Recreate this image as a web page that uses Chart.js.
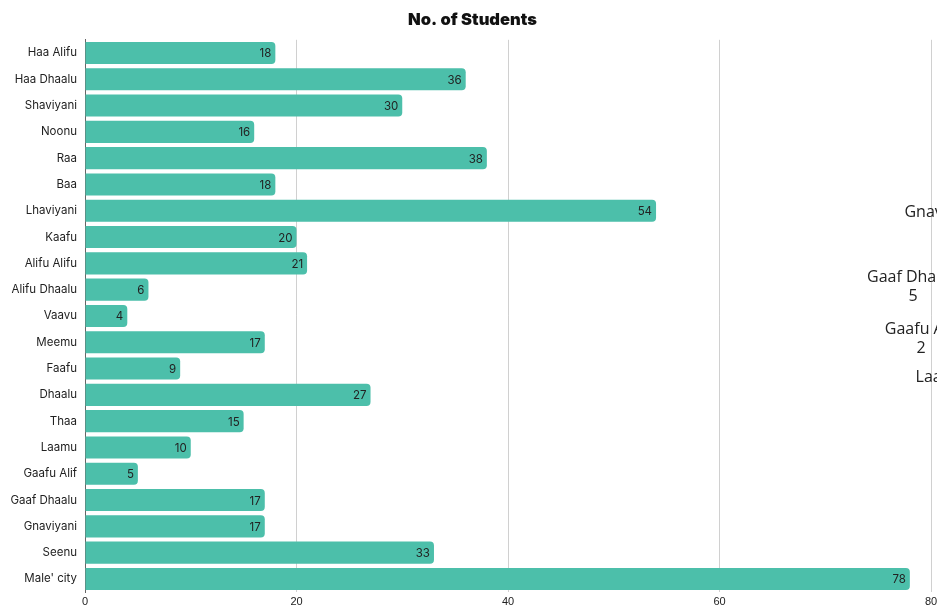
<!DOCTYPE html>
<html>
<head>
<meta charset="utf-8">
<script src="https://cdn.jsdelivr.net/npm/chart.js@4"></script>
<style>
  html, body { margin: 0; padding: 0; background: #fff; overflow: hidden; }
  #wrap { position: relative; width: 937px; height: 607px; overflow: hidden; }
  canvas { position: absolute; left: 0; top: 0; }
  .stray { position: absolute; font-family: "Open Sans", sans-serif; font-size: 16px; line-height: 19px;
           color: #222; text-align: center; white-space: nowrap; transform: translateX(-50%); }
</style>
</head>
<body>
<div id="wrap">
  <canvas id="chart" width="945" height="607"></canvas>
</div>
<script>
const regions = [
    'Haa Alifu', 'Haa Dhaalu', 'Shaviyani', 'Noonu', 'Raa', 'Baa', 'Lhaviyani',
    'Kaafu', 'Alifu Alifu', 'Alifu Dhaalu', 'Vaavu', 'Meemu', 'Faafu', 'Dhaalu',
    'Thaa', 'Laamu', 'Gaafu Alif', 'Gaaf Dhaalu', 'Gnaviyani', 'Seenu', "Male' city"
];
const students = [18, 36, 30, 16, 38, 18, 54, 20, 21, 6, 4, 17, 9, 27, 15, 10, 5, 17, 17, 33, 78];
const xTicks = [0, 20, 40, 60, 80];

// labels of another chart that spill in from the right edge of the page
const strayLabels = ['Gnaviyani', 'Gaaf Dhaalu', 'Gaafu Alif', 'Laamu'];
const strayValues = ['', '5', '2', ''];

// draw the value at the end of each bar
const barValues = {
    id: 'barValues',
    afterDatasetsDraw(chart) {
        const ctx = chart.ctx;
        const meta = chart.getDatasetMeta(0);
        ctx.save();
        ctx.font = '11.5px Inter, sans-serif';
        ctx.fillStyle = '#222';
        ctx.textAlign = 'right';
        ctx.textBaseline = 'middle';
        meta.data.forEach((bar, i) => {
            ctx.fillText(chart.data.datasets[0].data[i], bar.x - 4, bar.y + 1);
        });
        ctx.restore();
    }
};

const config = {
    type: 'bar',
    data: {
        labels: regions,
        datasets: [{
            label: 'No. of Students',
            data: students,
            backgroundColor: '#4cbfaa',
            borderRadius: 4,
            borderSkipped: 'start',
            barPercentage: 0.84,
            categoryPercentage: 1
        }]
    },
    options: {
        indexAxis: 'y',
        responsive: false,
        animation: false,
        layout: { padding: { bottom: -5 } },
        plugins: {
            legend: { display: false },
            tooltip: { enabled: false },
            title: {
                display: true,
                text: 'No. of Students',
                color: '#111',
                font: { family: 'Inter', size: 16.5, weight: 900 },
                padding: { top: 10, bottom: 10 }
            }
        },
        scales: {
            x: {
                min: 0,
                max: 80,
                afterBuildTicks: (s) => { s.ticks = xTicks.map(v => ({ value: v })); },
                afterFit: (s) => { s.paddingRight = 14; },
                grid: { color: '#d0d0d0', drawTicks: false },
                border: { display: false },
                ticks: { color: '#222', padding: 3, font: { family: 'Liberation Sans', size: 11 } }
            },
            y: {
                afterFit: (s) => { s.width = 85; },
                grid: { display: false, drawTicks: false },
                border: { display: true, color: '#666' },
                ticks: { color: '#222', padding: 8, font: { family: 'Inter', size: 11.5 } }
            }
        }
    },
    plugins: [barValues]
};

const myChart = new Chart(document.getElementById('chart'), config);

// place the spilled labels
const strayPos = [[941, 202], [913, 267], [921, 319], [941, 367]];
const wrap = document.getElementById('wrap');
strayLabels.forEach((t, i) => {
    const d = document.createElement('div');
    d.className = 'stray';
    d.style.left = strayPos[i][0] + 'px';
    d.style.top = strayPos[i][1] + 'px';
    d.innerHTML = t + '<br>' + strayValues[i];
    wrap.appendChild(d);
});
</script>
</body>
</html>
